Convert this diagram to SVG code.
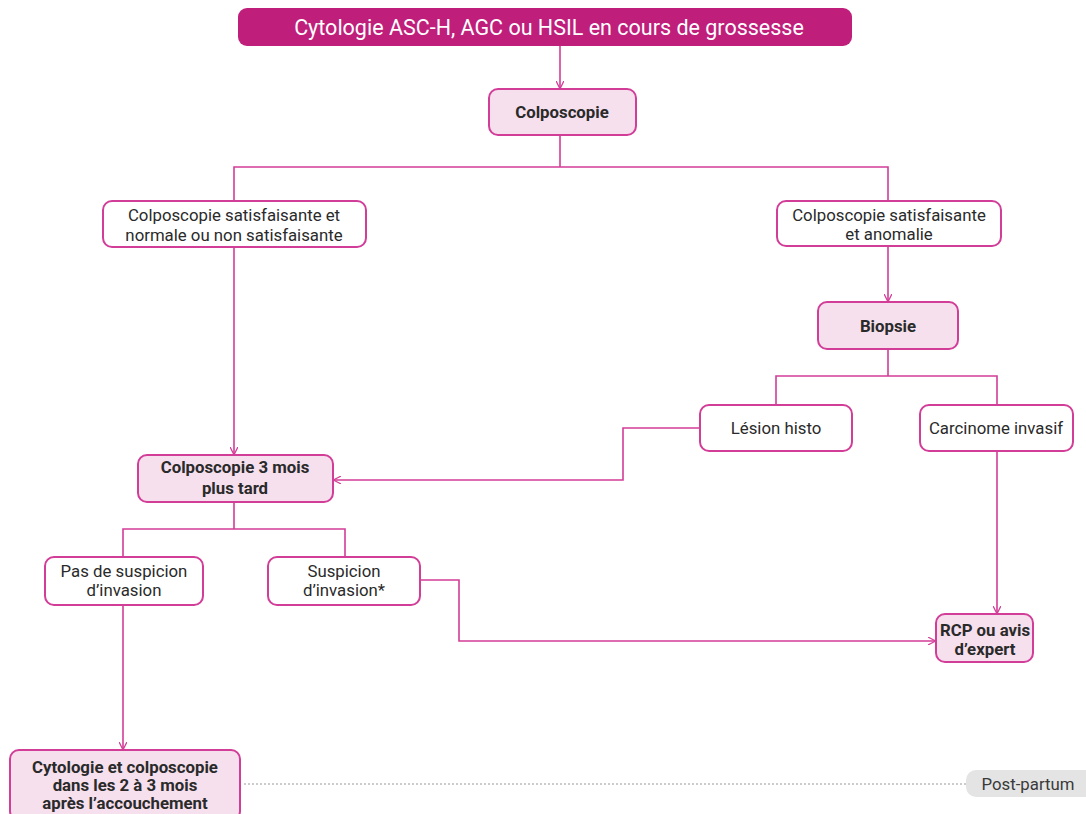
<svg xmlns="http://www.w3.org/2000/svg" width="1086" height="814" viewBox="0 0 1086 814">
<style>
.t{font-family:Roboto,"Liberation Sans",sans-serif;font-size:16.8px;fill:#2a2a2a;text-anchor:middle}
.b{font-weight:bold}
.w{fill:#fff;stroke:#D23D98;stroke-width:2}
.p{fill:#F6E0EE;stroke:#D23D98;stroke-width:2}
.c{fill:none;stroke:#D23D98;stroke-width:1.6}
</style>
<defs>
<marker id="a" viewBox="0 0 10 10" refX="9" refY="5" markerWidth="8" markerHeight="8" markerUnits="userSpaceOnUse" orient="auto">
<path d="M0,0 L10,5 L0,10" fill="none" stroke="#D23D98" stroke-width="1.6"/>
</marker>
</defs>
<rect width="1086" height="814" fill="#fff"/>
<g id="connectors">
<path class="c" d="M560,46 V88" marker-end="url(#a)"/>
<path class="c" d="M560,135 V167 M234,201 V167 H888 V201"/>
<path class="c" d="M888,246 V301" marker-end="url(#a)"/>
<path class="c" d="M888,349 V376 M776,405 V376 H997 V405"/>
<path class="c" d="M234,247 V454" marker-end="url(#a)"/>
<path class="c" d="M700,428 H623 V480 H334" marker-end="url(#a)"/>
<path class="c" d="M234,502 V529 M123,557 V529 H345 V557"/>
<path class="c" d="M420,580 H459 V641 H935" marker-end="url(#a)"/>
<path class="c" d="M997,451 V613" marker-end="url(#a)"/>
<path class="c" d="M123,605 V749" marker-end="url(#a)"/>
<path d="M244,784 H966" fill="none" stroke="#9a9a9a" stroke-width="1" stroke-dasharray="2,2"/>
</g>
<g id="n-top">
<rect x="238" y="8" width="614" height="38" rx="9" fill="#C01E7B"/>
<text class="t" x="549" y="35" style="fill:#fff;font-size:21.5px">Cytologie ASC-H, AGC ou HSIL en cours de grossesse</text>
</g>
<g id="n-colpo">
<rect class="p" x="489" y="89" width="147" height="46" rx="9"/>
<text class="t b" x="562" y="118">Colposcopie</text>
</g>
<g id="n-satnorm">
<rect class="w" x="103" y="201" width="263" height="46" rx="9"/>
<text class="t" x="234" y="221">Colposcopie satisfaisante et</text>
<text class="t" x="234" y="241">normale ou non satisfaisante</text>
</g>
<g id="n-satanom">
<rect class="w" x="777" y="201" width="224" height="45" rx="9"/>
<text class="t" x="889" y="221">Colposcopie satisfaisante</text>
<text class="t" x="889" y="240">et anomalie</text>
</g>
<g id="n-biopsie">
<rect class="p" x="818" y="302" width="140" height="47" rx="9"/>
<text class="t b" x="888" y="332">Biopsie</text>
</g>
<g id="n-lesion">
<rect class="w" x="700" y="405" width="152" height="46" rx="9"/>
<text class="t" x="776" y="434">Lésion histo</text>
</g>
<g id="n-carcinome">
<rect class="w" x="920" y="405" width="153" height="46" rx="9"/>
<text class="t" x="996" y="434">Carcinome invasif</text>
</g>
<g id="n-colpo3">
<rect class="p" x="138" y="455" width="195" height="47" rx="9"/>
<text class="t b" x="235" y="473">Colposcopie 3 mois</text>
<text class="t b" x="235" y="494">plus tard</text>
</g>
<g id="n-pas">
<rect class="w" x="45" y="557" width="158" height="48" rx="9"/>
<text class="t" x="124" y="577">Pas de suspicion</text>
<text class="t" x="124" y="596">d’invasion</text>
</g>
<g id="n-susp">
<rect class="w" x="268" y="557" width="152" height="48" rx="9"/>
<text class="t" x="344" y="577">Suspicion</text>
<text class="t" x="344" y="596">d’invasion*</text>
</g>
<g id="n-rcp">
<rect class="p" x="936" y="614" width="97" height="48" rx="9"/>
<text class="t b" x="985" y="636">RCP ou avis</text>
<text class="t b" x="985" y="655">d’expert</text>
</g>
<g id="n-cyto">
<rect class="p" x="10" y="750" width="230" height="70" rx="9"/>
<text class="t b" x="125" y="773">Cytologie et colposcopie</text>
<text class="t b" x="125" y="791">dans les 2 à 3 mois</text>
<text class="t b" x="125" y="809">après l’accouchement</text>
</g>
<g id="n-postpartum">
<rect x="966" y="770" width="130" height="27" rx="10" fill="#E4E4E4"/>
<text class="t" x="1028" y="790" style="fill:#3a3a3a">Post-partum</text>
</g>
</svg>
